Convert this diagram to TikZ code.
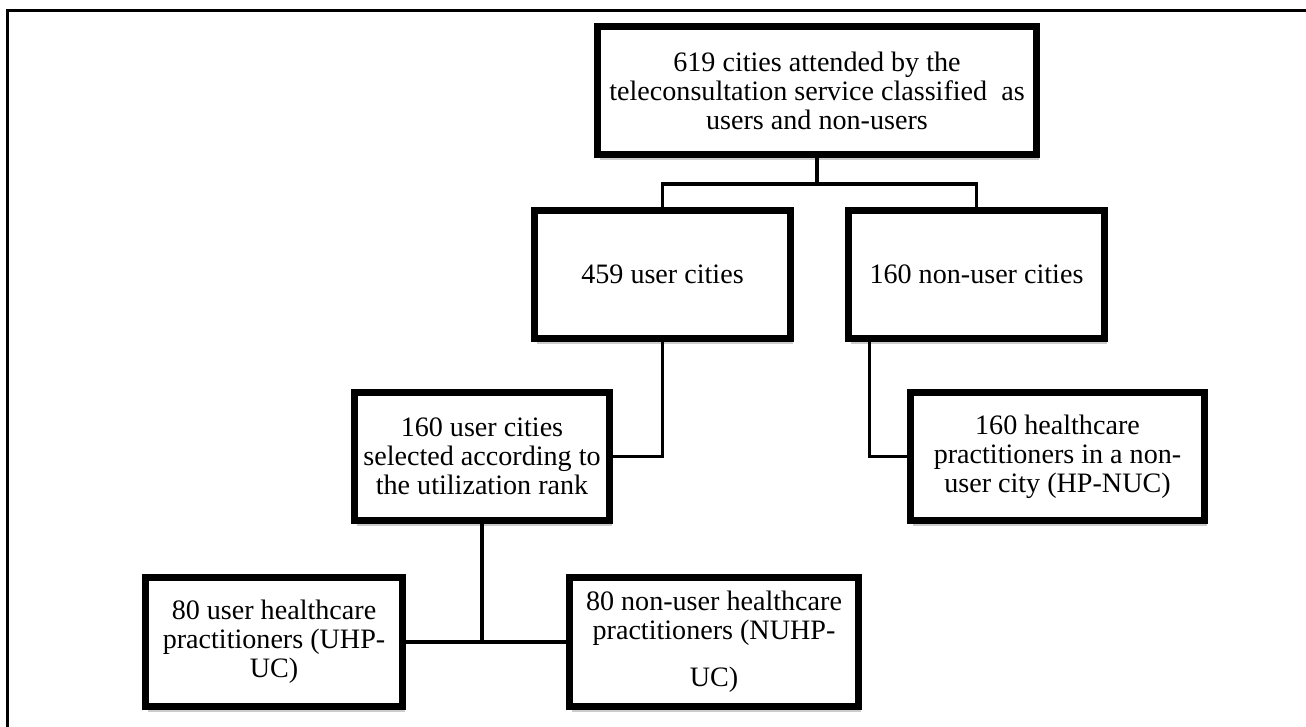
\documentclass[tikz,border=0pt]{standalone}
\usepackage{fontspec}
\setmainfont{Liberation Serif}
\usetikzlibrary{positioning,shadows}

\tikzset{
  box/.style={draw=black,line width=4pt,fill=white,align=center,inner sep=2pt,font=\fontsize{16pt}{16.5pt}\selectfont,minimum height=2.56cm,drop shadow={shadow xshift=1.5pt,shadow yshift=-3pt,fill=black!25,opacity=0.8}},
  link/.style={draw=black,line width=2.2pt}
}

\begin{document}
\begin{tikzpicture}[x=0.02cm,y=-0.02cm]
\useasboundingbox (0,0) rectangle (1306,727);
\draw[line width=1.2pt] (7.5,727) -- (7.5,10.5) -- (1306,10.5);
\node[box,minimum width=8.78cm] (top) at (817,90.5) {619 cities attended by the\\teleconsultation service classified\ \ as\\users and non-users};
\node[box,minimum width=5.12cm] (users) at (662.5,274.5) {459 user cities};
\node[box,minimum width=5.12cm] (nonusers) at (976.5,274.5) {160 non-user cities};
\node[box,minimum width=5.1cm] (sel) at (482,456.5) {160 user cities\\selected according to\\the utilization rank};
\node[box,minimum width=5.88cm] (hpnuc) at (1057.5,456.5) {160 healthcare\\practitioners in a non-\\user city (HP-NUC)};
\node[box,minimum width=5.14cm,minimum height=2.58cm] (uhp) at (274,642) {80 user healthcare\\practitioners (UHP-\\UC)};
\node[box,minimum width=5.78cm,minimum height=2.58cm] (nuhp) at (714,642) {80 non-user healthcare\\practitioners (NUHP-\\[10pt]UC)};
\coordinate (split) at (817,184);
\draw[link] (top.south) -- (split);
\draw[link] (users.north) |- (split) -| (nonusers.north);
\draw[link] (users.south) |- (sel.east);
\draw[link] ([xshift=0.49cm]nonusers.south west) |- (hpnuc.west);
\draw[link] (sel.south) -- (sel.south |- uhp.east);
\draw[link] (uhp.east) -- (nuhp.west);
\end{tikzpicture}
\end{document}
